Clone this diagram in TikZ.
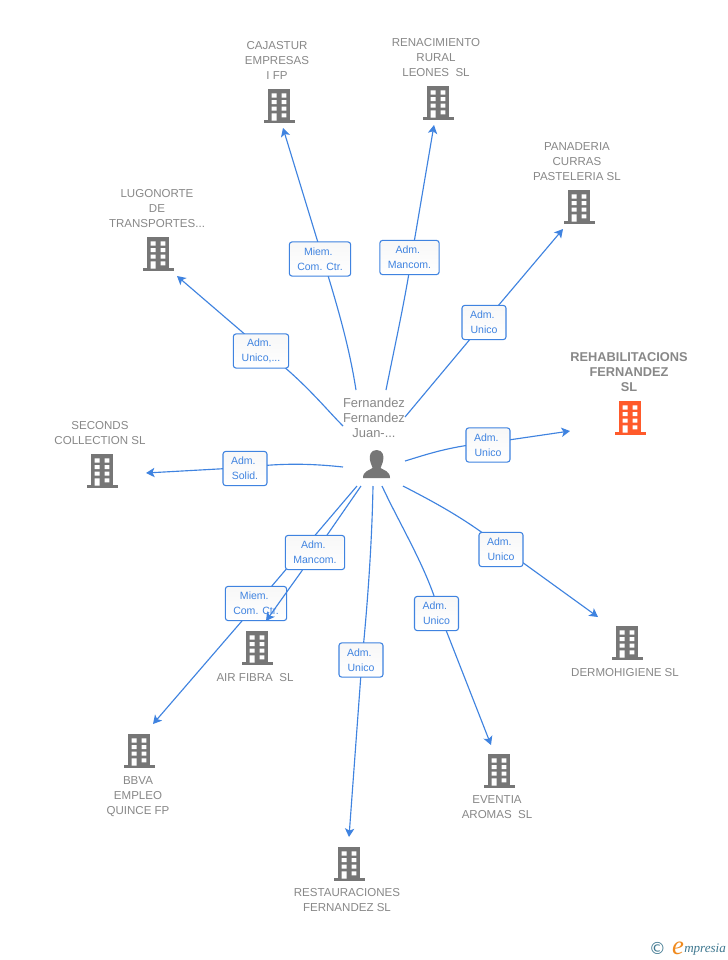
\documentclass[tikz,border=0pt]{standalone}
\usepackage{fontspec}
\setmainfont{Liberation Sans}
\newfontfamily\logoserif{Liberation Serif}
\newfontfamily\logosans{DejaVu Sans}
\usetikzlibrary{arrows.meta,calc}
\pgfdeclarelayer{bg}
\pgfsetlayers{bg,main}
\definecolor{linkblue}{HTML}{3F83E0}
\definecolor{nametxt}{HTML}{888888}
\definecolor{icongray}{HTML}{767676}
\definecolor{iconred}{HTML}{FF5A2B}
\definecolor{logoblue}{HTML}{3F7890}
\definecolor{logoorange}{HTML}{F08A1E}
\newcommand\tsp{\kern2.5pt}
\tikzset{
  x=0.75pt,y=-0.75pt,
  conn/.style={draw=linkblue,line width=0.85pt},
  arr/.style={conn,-{Stealth[length=6.4pt,width=7pt,inset=1.6pt]}},
  lbl/.style={draw=linkblue,line width=0.8pt,rounded corners=2pt,top color=black!3,bottom color=white,
    text=linkblue,font=\fontsize{7.9}{11.25}\selectfont,align=center,inner sep=0pt,minimum height=25.6pt},
  lblS/.style={lbl,minimum width=33pt},
  lblM/.style={lbl,minimum width=44.5pt},
  lblU/.style={lbl,minimum width=41.5pt},
  lblL/.style={lbl,minimum width=46pt},
  bname/.style={text=nametxt,font=\fontsize{8.65}{11.25}\selectfont,align=center,inner sep=0pt},
  bnamebold/.style={text=nametxt,font=\fontsize{9.6}{11.25}\selectfont\bfseries,align=center,inner sep=0pt},
  pname/.style={text=nametxt,font=\fontsize{9.7}{11.25}\selectfont,align=center,inner sep=0pt},
  bldgnode/.style={inner sep=0pt,minimum width=23.5pt,minimum height=25.5pt},
  bldg/.pic={
    \fill[pic actions] (-11,-17) rectangle (11,15);
    \fill[pic actions] (-15.5,14) rectangle (15.5,17);
    \fill[white] (-7.3,-12.7) rectangle (-2.5,-8.3) (2.7,-12.7) rectangle (7.3,-8.3)
      (-7.3,-6) rectangle (-2.5,-2) (2.7,-6) rectangle (7.3,-2)
      (-7.3,0.7) rectangle (-2.5,4.7) (2.7,0.7) rectangle (7.3,4.7)
      (-7.3,7.3) rectangle (-2.5,14.7) (2.7,7.3) rectangle (7.3,11.3);
  }
}
\begin{document}
\begin{tikzpicture}
\useasboundingbox (0,0) rectangle (728,960);
\begin{pgfonlayer}{bg}
\fill[white] (0,0) rectangle (728,960);
\end{pgfonlayer}

% central person
\node[pname] (personname) at (374,417.5) {Fernandez\\Fernandez\\Juan-...};
\node[inner sep=0pt,minimum width=20pt,minimum height=21pt] (person) at (376.5,464) {};
\fill[icongray] (376.6,450) .. controls (383,450) and (384,456) .. (383.2,460)
   .. controls (382.6,464) and (381,466) .. (380.6,468)
   .. controls (384,470.5) and (390,471) .. (390,478) -- (363,478)
   .. controls (363,471) and (369,470.5) .. (372.6,468)
   .. controls (372.2,466) and (370.6,464) .. (370,460)
   .. controls (369.2,456) and (370.2,450) .. (376.6,450) -- cycle;

% buildings
\foreach \nm/\px/\py/\col in {b1/279/106/icongray,b2/438/103/icongray,b3/579/207/icongray,
  b4/158/254/icongray,b5/102/471/icongray,b6/630/418/iconred,b7/627/643/icongray,
  b8/499/771/icongray,b9/349/864/icongray,b10/257/648/icongray,b11/139/751/icongray}{
  \node[bldgnode] (\nm) at (\px,\py) {};
  \pic[fill=\col] at (\px,\py) {bldg};
}

% names
\node[bname] (n1) at (277,60.5) {CAJASTUR\\EMPRESAS\\I FP};
\node[bname] (n2) at (436,57.5) {RENACIMIENTO\\RURAL\\LEONES\ \ SL};
\node[bname] (n3) at (577,161.5) {PANADERIA\\CURRAS\\PASTELERIA SL};
\node[bname] (n4) at (157,208.5) {LUGONORTE\\DE\\TRANSPORTES...};
\node[bname] (n5) at (100,433) {SECONDS\\COLLECTION SL};
\node[bnamebold] (n6) at (629,372.5) {REHABILITACIONS\\FERNANDEZ\\SL};
\node[bname] (n7) at (625,672.5) {DERMOHIGIENE SL};
\node[bname] (n8) at (497,807) {EVENTIA\\AROMAS\ \ SL};
\node[bname] (n9) at (347,900) {RESTAURACIONES\\FERNANDEZ SL};
\node[bname] (n10) at (255,677.5) {AIR FIBRA\ \ SL};
\node[bname] (n11) at (138,796.5) {BBVA\\EMPLEO\\QUINCE FP};

% relation labels
\node[lblL] (l1) at (320,259) {Miem.\tsp\\Com. Ctr.};
\node[lblM] (l2) at (409.5,257.5) {Adm.\tsp\\Mancom.};
\node[lblS] (l3) at (484,322.5) {Adm.\tsp\\Unico};
\node[lblU] (l4) at (261,351) {Adm.\tsp\\Unico,...};
\node[lblS] (l5) at (245,468.5) {Adm.\tsp\\Solid.};
\node[lblS] (l6) at (488,445) {Adm.\tsp\\Unico};
\node[lblS] (l7) at (501,549.5) {Adm.\tsp\\Unico};
\node[lblM] (l8) at (315,552.5) {Adm.\tsp\\Mancom.};
\node[lblL] (l9) at (256,603.5) {Miem.\tsp\\Com. Ctr.};
\node[lblS] (l10) at (436.5,613.5) {Adm.\tsp\\Unico};
\node[lblS] (l11) at (361,660) {Adm.\tsp\\Unico};

% free ends
\coordinate (s1) at (356,390);  \coordinate (t1) at (283,128);
\coordinate (s2) at (386,390);  \coordinate (t2) at (434,125);
\coordinate (s3) at (405,417);  \coordinate (t3) at (563,229);
\coordinate (s4) at (343,426);  \coordinate (t4) at (177,276);
\coordinate (s5) at (343,467);  \coordinate (t5) at (146,473);
\coordinate (s6) at (405,461);  \coordinate (t6) at (570,431);
\coordinate (s7) at (403,486);  \coordinate (t7) at (598,617);
\coordinate (s8) at (382,486);  \coordinate (t8) at (491,745);
\coordinate (s9) at (373,486);  \coordinate (t9) at (349,837);
\coordinate (s10) at (361,486); \coordinate (t10) at (266,621);
\coordinate (s11) at (357,486); \coordinate (t11) at (153,724);

% connectors behind the labels
\begin{pgfonlayer}{bg}
\draw[conn] (s1) .. controls (349,345) and (337,305) .. ([xshift=2.25pt]l1.center);
\draw[arr] ([xshift=2.25pt]l1.center) -- (t1);
\draw[conn] (s2) .. controls (395,345) and (405,300) .. ([xshift=1.5pt]l2.center);
\draw[arr] ([xshift=1.5pt]l2.center) -- (t2);
\draw[conn] (s3) -- (l3.center);
\draw[arr] (l3.center) -- (t3);
\draw[conn] (s4) .. controls (325,408) and (303,380) .. ([xshift=2.5pt]l4.center);
\draw[arr] ([xshift=2.5pt]l4.center) -- (t4);
\draw[conn] (s5) .. controls (315,464) and (285,462.5) .. ([yshift=.75pt]l5.center);
\draw[arr] ([yshift=.75pt]l5.center) -- (t5);
\draw[conn] (s6) .. controls (425,455) and (450,446) .. ([yshift=1.5pt]l6.center);
\draw[arr] ([yshift=1.5pt]l6.center) -- (t6);
\draw[conn] (s7) .. controls (430,500) and (465,518) .. ([yshift=2pt]l7.center);
\draw[arr] ([yshift=2pt]l7.center) -- (t7);
\draw[conn] (s8) .. controls (400,525) and (428,570) .. ([xshift=2.25pt]l10.center);
\draw[arr] ([xshift=2.25pt]l10.center) -- (t8);
\draw[conn] (s9) .. controls (372,540) and (368,600) .. ([xshift=.75pt]l11.center);
\draw[arr] ([xshift=.75pt]l11.center) -- (t9);
\draw[conn] (s10) -- (l8.center);
\draw[conn] (s11) -- ([xshift=.75pt]l9.center);
\draw[arr] ([xshift=.75pt]l9.center) -- (t11);
\end{pgfonlayer}
% this arrow runs over the Miem. label
\draw[arr] (l8) -- (t10);

% logo
\node[inner sep=0pt,text=logoblue,font=\logosans\fontsize{12.5}{14}\selectfont] (logo1) at (657.5,948) {©};
\node[inner sep=0pt,text=logoorange,font=\logoserif\itshape\fontsize{20}{22}\selectfont] (logo2) at (678,948) {e};
\node[inner sep=0pt,anchor=west,text=logoblue,font=\logoserif\itshape\fontsize{9.8}{12}\selectfont] (logo3) at (684,950) {mpresia};
\end{tikzpicture}
\end{document}
